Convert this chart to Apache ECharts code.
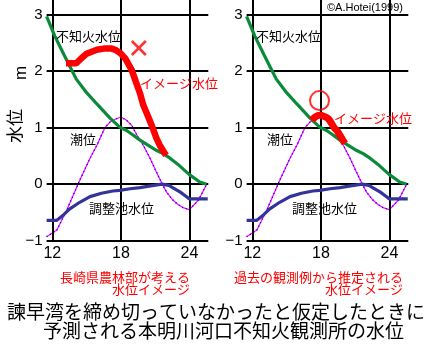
<!DOCTYPE html>
<html><head><meta charset="utf-8">
<script src="https://cdn.jsdelivr.net/npm/echarts@6/dist/echarts.min.js"></script>
<style>html,body{margin:0;padding:0;background:#fff}#c{width:424px;height:348px}</style>
</head><body><div id="c"></div>
<script>
// ---- data ----
const xTicks = [12, 18, 24];
const yTicks = [-1, 0, 1, 2, 3];

const shiranuiHours  = [11.5, 12.2, 13, 13.55, 14.1, 15, 15.9, 17.05, 17.9, 18.5, 19.0, 19.67, 20.3, 21.1, 21.7, 22.3, 23.0, 23.6, 24.0, 24.9, 25.5];
const shiranuiValues = [2.97, 2.63, 2.3, 2.08, 1.86, 1.62, 1.42, 1.17, 1.01, 0.95, 0.88, 0.78, 0.70, 0.60, 0.54, 0.46, 0.35, 0.24, 0.17, 0.04, 0];

const tideHours  = [11.5, 12.4, 13.26, 14.4, 15.3, 15.9, 16.6, 17.05, 17.5, 18.0, 18.5, 18.95, 19.4, 19.96, 20.55, 21.1, 21.6, 22.0, 22.5, 23.0, 23.5, 24.0, 24.8, 25.5];
const tideValues = [-0.93, -0.81, -0.46, 0.07, 0.46, 0.69, 1.0, 1.10, 1.15, 1.19, 1.13, 1.04, 0.87, 0.69, 0.46, 0.22, 0.01, -0.14, -0.27, -0.36, -0.42, -0.45, -0.28, 0];

const pondHours  = [11.5, 12.4, 13.0, 13.5, 14.4, 15.3, 16.3, 17.3, 17.9, 18.8, 19.67, 20.6, 21.6, 22.2, 22.6, 23.2, 23.6, 24.0, 25.6];
const pondValues = [-0.64, -0.64, -0.54, -0.44, -0.32, -0.22, -0.16, -0.12, -0.11, -0.08, -0.06, -0.03, 0, -0.02, -0.07, -0.14, -0.2, -0.26, -0.26];

const imageLeftHours  = [13.2, 14.1, 14.5, 15.0, 15.9, 16.5, 17.2, 17.6, 18.0, 18.4, 18.95, 19.3, 19.67, 19.96, 20.4, 20.7, 21.1, 21.4, 21.95];
const imageLeftValues = [2.14, 2.14, 2.22, 2.31, 2.38, 2.40, 2.40, 2.37, 2.31, 2.22, 2.02, 1.82, 1.61, 1.40, 1.19, 1.04, 0.82, 0.69, 0.51];

const imageRightHours  = [17.2, 17.5, 17.9, 18.3, 18.65, 19.2, 19.4, 20.1];
const imageRightValues = [1.13, 1.19, 1.22, 1.20, 1.16, 0.99, 0.95, 0.72];

const crossMark  = [19.57, 2.41];
const circleMark = [17.88, 1.48];

// ---- build ----
const zip = (a, b) => a.map((v, i) => [v, b[i]]);
const JP = '"Noto Sans CJK JP", sans-serif';
const NUM = '"Liberation Sans", Arial, sans-serif';

const grids = [
  {left: 46.6, top: 0, width: 161.7, height: 240.7},
  {left: 246.6, top: 0, width: 161.7, height: 240.7}
];
const xAxes = [0, 1].map(i => ({
  gridIndex: i, type: 'value', min: 11.5, max: 25.65,
  axisLine: {show: false}, axisTick: {show: false}, splitLine: {show: false},
  axisLabel: {customValues: xTicks, fontSize: 16, color: '#000', margin: 5, fontFamily: NUM}
}));
const yAxes = [0, 1].map(i => ({
  gridIndex: i, type: 'value', min: -1, max: 3.26,
  axisLine: {show: false}, axisTick: {show: false}, splitLine: {show: false},
  axisLabel: {customValues: yTicks, fontSize: 15, color: '#000', margin: 4, fontFamily: NUM,
    formatter: v => String(v).replace('-', '\u2212')}
}));

const series = [];
[0, 1].forEach(i => {
  series.push({
    type: 'line', xAxisIndex: i, yAxisIndex: i, data: [], z: 1, silent: true,
    markLine: {
      symbol: 'none', silent: true, animation: false, label: {show: false},
      lineStyle: {color: '#000', width: 2, type: 'solid'},
      data: xTicks.map(v => ({xAxis: v})).concat(yTicks.map(v => ({yAxis: v})))
    }
  });
  series.push({type: 'line', xAxisIndex: i, yAxisIndex: i, data: zip(tideHours, tideValues),
    symbol: 'none', z: 3, lineStyle: {color: '#ff00ff', width: 1.2}});
  series.push({type: 'line', xAxisIndex: i, yAxisIndex: i, data: zip(tideHours, tideValues),
    symbol: 'none', z: 4, lineStyle: {color: '#0000ff', width: 1.4, type: [1, 3]}});
  series.push({type: 'line', xAxisIndex: i, yAxisIndex: i, data: zip(pondHours, pondValues),
    symbol: 'none', z: 5, lineStyle: {color: '#333399', width: 3.2}});
  series.push({type: 'line', xAxisIndex: i, yAxisIndex: i, data: zip(shiranuiHours, shiranuiValues),
    symbol: 'none', z: 6, lineStyle: {color: '#0b8a3a', width: 3.2}});
});
series.push({type: 'line', xAxisIndex: 0, yAxisIndex: 0, data: zip(imageLeftHours, imageLeftValues),
  symbol: 'none', z: 7, lineStyle: {color: '#ff0000', width: 6.5}});
series.push({type: 'line', xAxisIndex: 1, yAxisIndex: 1, data: zip(imageRightHours, imageRightValues),
  symbol: 'none', z: 7, smooth: 0.3, lineStyle: {color: '#ff0000', width: 7}});
series.push({type: 'scatter', xAxisIndex: 0, yAxisIndex: 0, data: [crossMark], z: 8,
  symbol: 'path://M0,0L10,10M10,0L0,10', symbolSize: 14,
  itemStyle: {color: 'none', borderColor: '#ff0000', borderWidth: 2.6}});
series.push({type: 'scatter', xAxisIndex: 1, yAxisIndex: 1, data: [circleMark], z: 8,
  symbol: 'circle', symbolSize: 19,
  itemStyle: {color: 'none', borderColor: '#ff0000', borderWidth: 2}});

function txt(text, x, y, size, color, align, family, rot) {
  const el = {type: 'text', x: x, y: y, z: 100, silent: true,
    style: {text: text, fill: color, font: size + 'px ' + family, align: align, verticalAlign: 'middle'}};
  if (rot) el.rotation = rot;
  return el;
}
const graphic = [
  txt('\u6c34\u4f4d', 15, 126, 17, '#000', 'center', JP, Math.PI / 2),
  txt('m', 21, 73, 17, '#000', 'center', NUM, Math.PI / 2),
  txt('\u4e0d\u77e5\u706b\u6c34\u4f4d', 56, 36, 13, '#000', 'left', JP),
  txt('\u4e0d\u77e5\u706b\u6c34\u4f4d', 256, 36, 13, '#000', 'left', JP),
  txt('\u30a4\u30e1\u30fc\u30b8\u6c34\u4f4d', 140, 83, 13, '#ff0000', 'left', JP),
  txt('\u30a4\u30e1\u30fc\u30b8\u6c34\u4f4d', 334, 118, 13, '#ff0000', 'left', JP),
  txt('\u6f6e\u4f4d', 70, 139, 13, '#000', 'left', JP),
  txt('\u6f6e\u4f4d', 267, 139, 13, '#000', 'left', JP),
  txt('\u8abf\u6574\u6c60\u6c34\u4f4d', 89, 208, 13, '#000', 'left', JP),
  txt('\u8abf\u6574\u6c60\u6c34\u4f4d', 292, 208, 13, '#000', 'left', JP),
  txt('\u00a9A.Hotei(1999)', 327, 8, 11, '#000', 'left', NUM),
  txt('\u9577\u5d0e\u770c\u8fb2\u6797\u90e8\u304c\u8003\u3048\u308b', 190, 277, 13, '#ff0000', 'right', JP),
  txt('\u6c34\u4f4d\u30a4\u30e1\u30fc\u30b8', 190, 289, 13, '#ff0000', 'right', JP),
  txt('\u904e\u53bb\u306e\u89b3\u6e2c\u4f8b\u304b\u3089\u63a8\u5b9a\u3055\u308c\u308b', 403, 277, 13, '#ff0000', 'right', JP),
  txt('\u6c34\u4f4d\u30a4\u30e1\u30fc\u30b8', 403, 289, 13, '#ff0000', 'right', JP),
  txt('\u8aeb\u65e9\u6e7e\u3092\u7de0\u3081\u5207\u3063\u3066\u3044\u306a\u304b\u3063\u305f\u3068\u4eee\u5b9a\u3057\u305f\u3068\u304d\u306b', 7, 312, 19, '#000', 'left', JP),
  txt('\u4e88\u6e2c\u3055\u308c\u308b\u672c\u660e\u5ddd\u6cb3\u53e3\u4e0d\u77e5\u706b\u89b3\u6e2c\u6240\u306e\u6c34\u4f4d', 43, 331, 19, '#000', 'left', JP)
];

const chart = echarts.init(document.getElementById('c'));
chart.setOption({
  animation: false,
  backgroundColor: '#fff',
  grid: grids, xAxis: xAxes, yAxis: yAxes, series: series, graphic: graphic
});
</script></body></html>
